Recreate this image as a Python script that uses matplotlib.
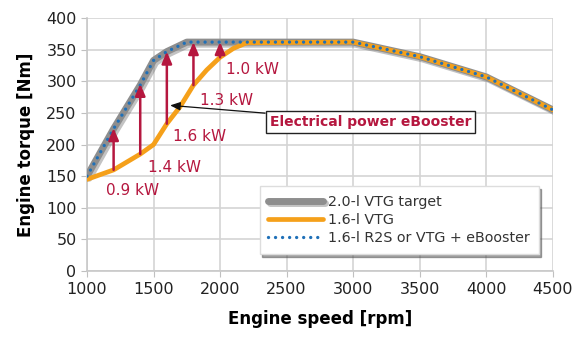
import matplotlib.pyplot as plt
import matplotlib.patheffects as pe

# data
speed_target = [1000, 1200, 1400, 1500, 1600, 1750, 3000, 3500, 4000, 4500]
torque_target = [150, 225, 294, 333, 347, 362, 362, 339, 307, 255]

speed_vtg = [1000, 1200, 1400, 1500, 1600, 1700, 1800, 1900, 2000, 2100, 2200, 3000, 3500, 4000, 4500]
torque_vtg = [145, 160, 185, 200, 233, 260, 294, 318, 338, 352, 361, 362, 339, 307, 255]

arrow_speed = [1200, 1400, 1600, 1800, 2000]
arrow_base = [160, 185, 233, 294, 338]
arrow_top = [226, 296, 347, 362, 362]

power_labels = ['0.9 kW', '1.4 kW', '1.6 kW', '1.3 kW', '1.0 kW']
label_speed = [1339, 1660, 1845, 2050, 2245]
label_torque = [128, 164, 212, 270, 318]

xticks = [1000, 1500, 2000, 2500, 3000, 3500, 4000, 4500]
yticks = [0, 50, 100, 150, 200, 250, 300, 350, 400]

red = '#b5173f'
fig = plt.figure(figsize=(5.8, 3.41), dpi=100)
ax = fig.add_axes([0.15, 0.205, 0.803, 0.742])

ax.set_xlim(1000, 4500)
ax.set_ylim(0, 400)
ax.set_xticks(xticks)
ax.set_yticks(yticks)
ax.grid(True, color='#d4d4d4', linewidth=1.2)
ax.set_axisbelow(True)
for s in ['top', 'right']:
    ax.spines[s].set_visible(False)
for s in ['left', 'bottom']:
    ax.spines[s].set_color('#c8c8c8')
    ax.spines[s].set_linewidth(1.2)
ax.tick_params(colors='#c0c0c0', labelcolor='#222222', labelsize=11.5, length=4)

shadow = [pe.SimpleLineShadow(offset=(1.5, -1.5), shadow_color='#555555', alpha=0.35), pe.Normal()]
ax.plot(speed_target, torque_target, color='#8e8e8e', lw=5, solid_capstyle='round',
        path_effects=shadow, label='2.0-l VTG target', zorder=3)
ax.plot(speed_vtg, torque_vtg, color='#f5a01a', lw=3.4, solid_capstyle='round',
        label='1.6-l VTG', zorder=4)
ax.plot(speed_target, torque_target, color='#1f70b8', lw=2.4, linestyle=(0, (0.01, 2.1)),
        dash_capstyle='round', label='1.6-l R2S or VTG + eBooster', zorder=5)

for x, b, t in zip(arrow_speed, arrow_base, arrow_top):
    ax.annotate('', xy=(x, t), xytext=(x, b),
                arrowprops=dict(arrowstyle='-|>,head_width=0.3,head_length=0.7',
                                color=red, lw=1.8, shrinkA=0, shrinkB=0), zorder=6)

for txt, x, y in zip(power_labels, label_speed, label_torque):
    ax.text(x, y, txt, color=red, fontsize=11, ha='center', va='center', zorder=7)

ax.annotate('Electrical power eBooster', xy=(1625, 262), xytext=(3130, 236),
            fontsize=10, fontweight='bold', color=red, ha='center', va='center',
            bbox=dict(boxstyle='square,pad=0.3', fc='white', ec='#222222', lw=1),
            arrowprops=dict(arrowstyle='-|>,head_width=0.25,head_length=0.6',
                            color='#111111', lw=0.9, shrinkA=0, shrinkB=0), zorder=8)

leg = ax.legend(loc='lower right', bbox_to_anchor=(0.985, 0.04), fontsize=10.3, frameon=True,
                fancybox=False, shadow=True, borderpad=0.6, handlelength=3.8,
                handletextpad=0.4, labelspacing=0.3, framealpha=1)
leg.get_frame().set_edgecolor('#dddddd')
for t in leg.get_texts():
    t.set_color('#333333')

ax.set_xlabel('Engine speed [rpm]', fontsize=12, fontweight='bold', labelpad=10)
ax.set_ylabel('Engine torque [Nm]', fontsize=12, fontweight='bold', labelpad=8)

fig.savefig('out.png', dpi=100)
